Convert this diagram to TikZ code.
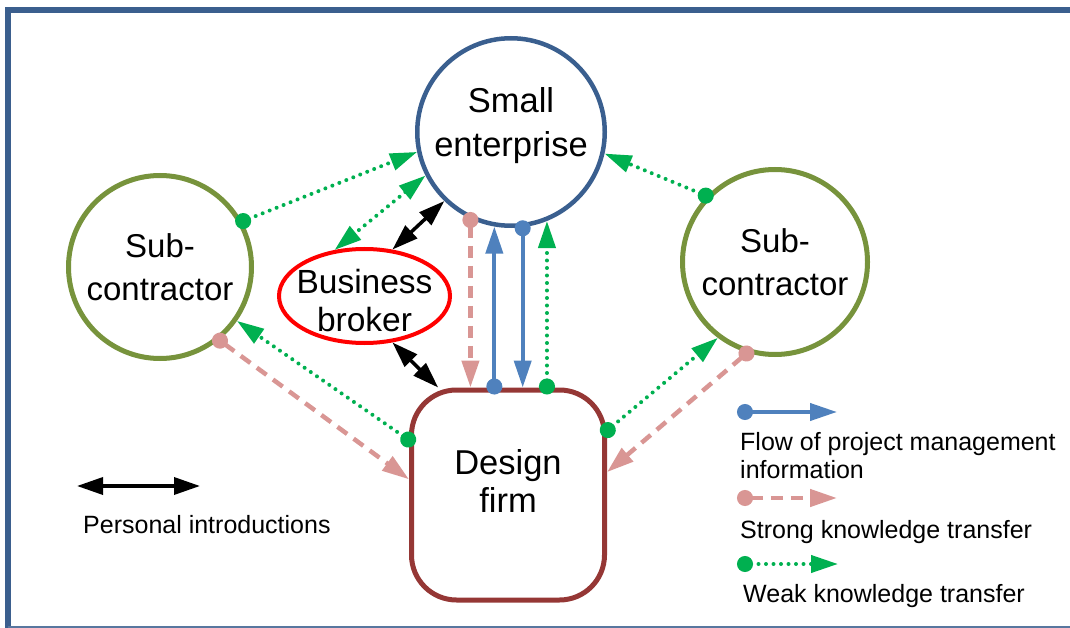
\documentclass[tikz,border=0pt]{standalone}
\usepackage{fontspec}
\setmainfont{Liberation Sans}
\usetikzlibrary{arrows.meta,shapes.geometric}
\definecolor{frameC}{HTML}{3B5F8E}
\definecolor{seC}{HTML}{3A5F8F}
\definecolor{subC}{HTML}{77933C}
\definecolor{dfC}{HTML}{953735}
\definecolor{blueC}{HTML}{4F81BD}
\definecolor{pinkC}{HTML}{D99694}
\definecolor{greenC}{HTML}{00B050}
\tikzset{
  bigtxt/.style={font=\fontsize{34.5}{44}\selectfont, align=center, text=black},
  subtxt/.style={font=\fontsize{33}{43}\selectfont, align=center, text=black},
  brotxt/.style={font=\fontsize{33.5}{38}\selectfont, align=center, text=black, inner sep=0pt},
  legtxt/.style={font=\fontsize{25}{28}\selectfont, align=left, anchor=base west, inner sep=0pt},
  flowblue/.style={draw=blueC, line width=4pt, {Circle[length=16pt]}-{Triangle[length=27pt,width=17pt]}, shorten <=-7pt},
  strongk/.style={draw=pinkC, line width=4.5pt, dash pattern=on 12pt off 8pt, {Circle[length=16pt]}-{Triangle[length=27pt,width=17pt]}, shorten <=-7pt},
  weakk/.style={draw=greenC, line width=4pt, line cap=round, dash pattern=on 0pt off 7.5pt, {Circle[length=16pt]}-{Triangle[length=27pt,width=17pt]}, shorten <=-7pt},
  weakboth/.style={draw=greenC, line width=4pt, line cap=round, dash pattern=on 0pt off 7.5pt, {Triangle[length=27pt,width=17pt]}-{Triangle[length=27pt,width=17pt]}},
  personal/.style={draw=black, line width=3.5pt, {Triangle[length=26pt,width=17pt]}-{Triangle[length=26pt,width=17pt]}},
}
\begin{document}
\begin{tikzpicture}[x=1pt,y=-1pt]
\useasboundingbox (0,0) rectangle (1070,628);
% frame
\draw[frameC, line width=6pt] (1070,10.5) -- (7.5,10.5) -- (7.5,628);
\draw[frameC!85, line width=1.2pt] (7.5,627) -- (1070,627);

% main nodes
\node[circle, draw=seC, line width=4.5pt, minimum size=187.5pt, inner sep=0pt, bigtxt, text height=69pt, text depth=19pt] (se) at (511,132) {Small\\enterprise};
\node[circle, draw=subC, line width=5pt, minimum size=183pt, inner sep=0pt, subtxt] (ls) at (160,267) {Sub-\\contractor};
\node[circle, draw=subC, line width=5pt, minimum size=185pt, inner sep=0pt, subtxt] (rs) at (775,262) {Sub-\\contractor};
\node[ellipse, draw=red, line width=4pt, minimum width=171pt, minimum height=94pt, inner sep=0pt] (br) at (364.5,296) {};
\node[brotxt] (brt) at ([yshift=-4.5pt]br.center) {Business\\broker};
\node[rectangle, draw=dfC, line width=5pt, rounded corners=45pt, minimum width=193pt, minimum height=210pt, inner sep=0pt, bigtxt, font=\fontsize{34.5}{38}\selectfont, text height=63pt, text depth=29pt] (df) at (508,495) {Design\\firm};

% connectors
\draw[weakk] (ls.29.5) -- (se.192.4);
\draw[weakboth] (se.207.6) -- (br.123);
\draw[personal] (se.226) -- (br.59);
\draw[personal] (br.301) -- (df.123.8);
\draw[weakk] (rs.136.7) -- (se.347.3);
\draw[strongk] (se.245.7) -- (se.245.7 |- df.north);
\draw[flowblue] (se.260.5 |- df.north) -- (se.260.5);
\draw[flowblue] (se.277) -- (se.277 |- df.north);
\draw[weakk] (se.292.7 |- df.north) -- (se.292.7);
\draw[weakk] (df.151.3) -- (ls.325.8);
\draw[strongk] (ls.309) -- (df.171.7);
\draw[weakk] (df.33.6) -- (rs.233);
\draw[strongk] (rs.253.8) -- (df.13.6);

% legend
\coordinate (lb1) at (744,412); \coordinate (lb2) at (837,412);
\coordinate (lp1) at (744,498); \coordinate (lp2) at (837,498);
\coordinate (lg1) at (744,564); \coordinate (lg2) at (838,564);
\coordinate (lk1) at (77,486); \coordinate (lk2) at (200,486);
\draw[flowblue] (lb1) -- (lb2);
\draw[strongk] (lp1) -- (lp2);
\draw[weakk] (lg1) -- (lg2);
\draw[personal] (lk1) -- (lk2);
\node[legtxt] (t1) at (740,478) {Flow of project management\\information};
\node[legtxt] (t2) at (740,538) {Strong knowledge transfer};
\node[legtxt] (t3) at (743,602) {Weak knowledge transfer};
\node[legtxt] (t4) at (83,533) {Personal introductions};
\end{tikzpicture}
\end{document}
